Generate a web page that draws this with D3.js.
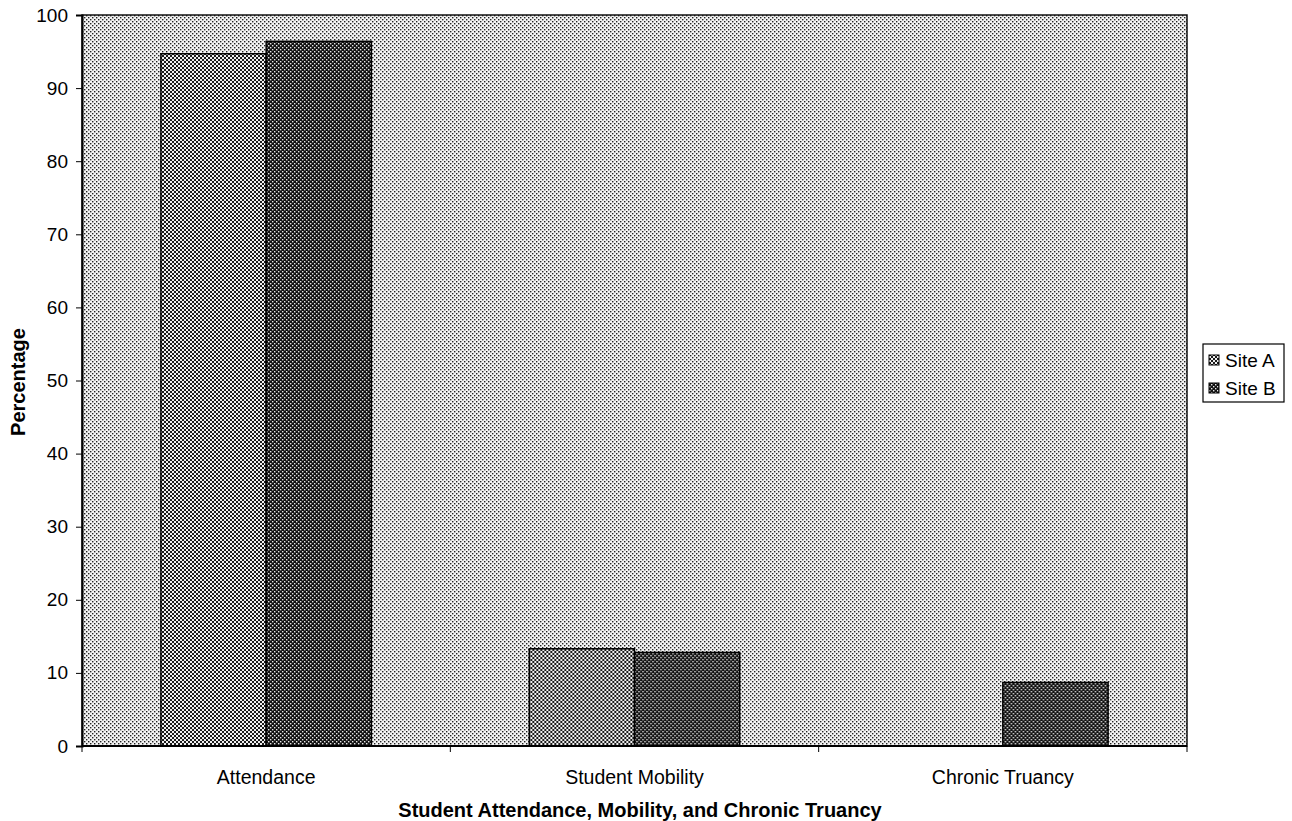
<!DOCTYPE html>
<html>
<head>
<meta charset="utf-8">
<script src="https://cdn.jsdelivr.net/npm/d3@7"></script>
<style>
  html, body { margin: 0; padding: 0; background: #fff; }
  svg { display: block; font-family: "Liberation Sans", Arial, sans-serif; }
</style>
</head>
<body>
<svg id="chart" width="1292" height="821"></svg>
<script>
// Categories, series and axis ticks
const categories = ["Attendance", "Student Mobility", "Chronic Truancy"];
const seriesNames = ["Site A", "Site B"];
const siteA = [94.7, 13.3, 0];
const siteB = [96.4, 12.8, 8.7];
const yTicks = [0, 10, 20, 30, 40, 50, 60, 70, 80, 90, 100];

const svg = d3.select("#chart");
const W = 1292, H = 821;
const margin = { left: 82, top: 15, right: W - 1187, bottom: H - 746 };
const plotW = W - margin.left - margin.right;
const plotH = H - margin.top - margin.bottom;
const FONT = "Liberation Sans, Arial, sans-serif";

// Fill patterns
const defs = svg.append("defs");
function dotPattern(id, bg, fg, cells) {
  const p = defs.append("pattern").attr("id", id)
    .attr("patternUnits", "userSpaceOnUse").attr("width", 4).attr("height", 4);
  p.append("rect").attr("width", 4).attr("height", 4).attr("fill", bg);
  cells.forEach(c => p.append("rect").attr("x", c[0]).attr("y", c[1])
    .attr("width", c[2]).attr("height", c[3]).attr("fill", fg));
}
// plot background: white with dark dots
dotPattern("bgPat", "#f4f4f4", "#222", [[0, 0, 1.4, 1.4], [2, 2, 1.4, 1.4]]);
// Site A: checkerboard
dotPattern("patA", "#f0f0f0", "#1a1a1a", [[0, 0, 2, 2], [2, 2, 2, 2]]);
// Site B: dark with light dots
dotPattern("patB", "#111", "#e8e8e8", [[0, 0, 1.4, 1.4], [2, 2, 1.4, 1.4]]);

const g = svg.append("g").attr("transform", `translate(${margin.left},${margin.top})`);

const y = d3.scaleLinear().domain([0, 100]).range([plotH, 0]);
const x0 = d3.scaleBand().domain(categories).range([0, plotW]).paddingInner(0).paddingOuter(0);
const groupFrac = 2 / 3.5;
const x1 = d3.scaleBand().domain(seriesNames)
  .range([x0.bandwidth() * (1 - groupFrac) / 2, x0.bandwidth() * (1 + groupFrac) / 2]);

// plot area background
g.append("rect").attr("width", plotW).attr("height", plotH)
  .attr("fill", "url(#bgPat)").attr("stroke", "#111").attr("stroke-width", 1.5);

const data = categories.map((c, i) => ({ cat: c, vals: [
  { s: "Site A", v: siteA[i], fill: "url(#patA)" },
  { s: "Site B", v: siteB[i], fill: "url(#patB)" }
]}));

const grp = g.selectAll("g.cat").data(data).join("g")
  .attr("transform", d => `translate(${x0(d.cat)},0)`);
grp.selectAll("rect").data(d => d.vals.filter(v => v.v > 0)).join("rect")
  .attr("x", d => x1(d.s))
  .attr("width", x1.bandwidth())
  .attr("y", d => y(d.v))
  .attr("height", d => plotH - y(d.v))
  .attr("fill", d => d.fill)
  .attr("stroke", "#000").attr("stroke-width", 1.5);

// y axis
const yAxis = d3.axisLeft(y).tickValues(yTicks).tickSize(6).tickPadding(8);
const ya = g.append("g").call(yAxis);
ya.attr("font-size", 19).attr("font-family", FONT);
ya.select(".domain").attr("stroke", "#000").attr("stroke-width", 2);
ya.selectAll(".tick line").attr("stroke", "#000");
ya.selectAll(".tick text").attr("fill", "#000");

// x axis: ticks at band edges
const xa = g.append("g").attr("transform", `translate(0,${plotH})`);
xa.append("line").attr("x1", 0).attr("x2", plotW).attr("stroke", "#000").attr("stroke-width", 2);
const edges = categories.map(c => x0(c)).concat([plotW]);
xa.selectAll("line.tk").data(edges).join("line").attr("class", "tk")
  .attr("x1", d => d).attr("x2", d => d).attr("y1", 0).attr("y2", 6)
  .attr("stroke", "#000");
xa.selectAll("text").data(categories).join("text")
  .attr("x", d => x0(d) + x0.bandwidth() / 2)
  .attr("y", 38)
  .attr("text-anchor", "middle").attr("font-size", 19.5).attr("fill", "#000")
  .text(d => d);

// axis titles
svg.append("text").attr("x", 640).attr("y", 817).attr("text-anchor", "middle")
  .attr("font-size", 20).attr("font-weight", "bold").text("Student Attendance, Mobility, and Chronic Truancy");
svg.append("text").attr("transform", "translate(25,382) rotate(-90)").attr("text-anchor", "middle")
  .attr("font-size", 20).attr("font-weight", "bold").text("Percentage");

// legend
const lg = svg.append("g").attr("transform", "translate(1203,344)");
lg.append("rect").attr("width", 81).attr("height", 58).attr("fill", "#fff")
  .attr("stroke", "#000").attr("stroke-width", 1.2);
const fills = ["url(#patA)", "url(#patB)"];
seriesNames.forEach((s, i) => {
  const row = lg.append("g").attr("transform", `translate(0,${16 + i * 28})`);
  row.append("rect").attr("x", 6).attr("y", -5).attr("width", 10).attr("height", 10)
    .attr("fill", fills[i]).attr("stroke", "#000").attr("stroke-width", 1);
  row.append("text").attr("x", 22).attr("y", 7).attr("font-size", 19).text(s);
});
</script>
</body>
</html>
